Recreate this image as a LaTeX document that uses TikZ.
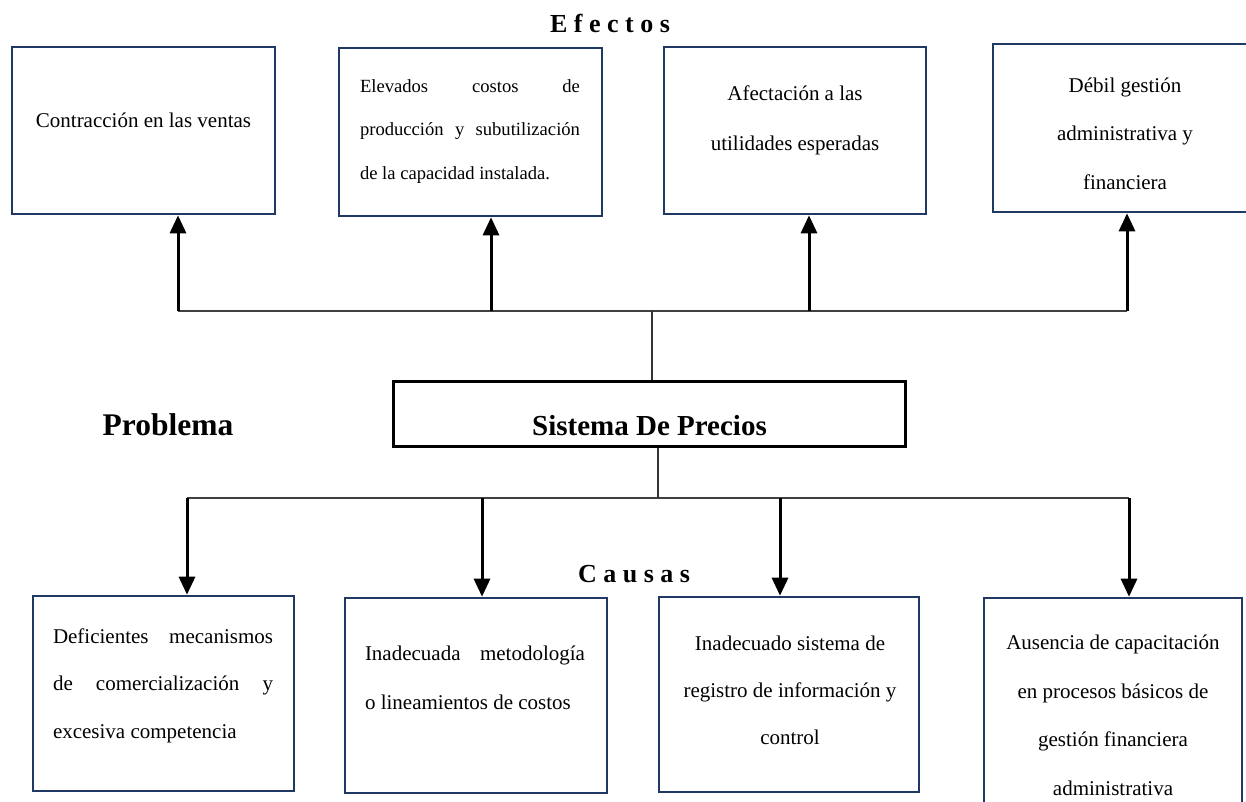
\documentclass[tikz,border=0pt]{standalone}
\usepackage{fontspec}
\setmainfont{Liberation Serif}
\usetikzlibrary{arrows.meta}
\definecolor{boxnavy}{RGB}{31,56,100}
% a line of text stretched to a given width
\newcommand\justline[2]{\makebox[#1][s]{#2}}
\begin{document}
\begin{tikzpicture}[x=1pt,y=-1pt,
  effbox/.style={draw=boxnavy,line width=2.6pt,inner sep=0pt},
  probbox/.style={draw=black,line width=3pt,inner sep=0pt},
  txt/.style={inner sep=0pt,font=\fontsize{21}{48.5}\selectfont,align=center},
  smalltxt/.style={inner sep=0pt,font=\fontsize{18.6}{43.5}\selectfont,align=left},
  jtxt/.style={inner sep=0pt,font=\fontsize{21}{47.5}\selectfont,align=left},
  heading/.style={inner sep=0pt,font=\bfseries\fontsize{26}{30}\selectfont,anchor=base},
  bigbold/.style={inner sep=0pt,font=\bfseries\fontsize{29}{34}\selectfont},
  arr/.style={-{Triangle[length=18pt,width=16pt]},line width=3pt},
  hline/.style={line width=1.6pt,draw=black!75},
  stem/.style={line width=1.2pt,draw=black!80}
]
\useasboundingbox (0,0) rectangle (1246,802);

% headings
\node[heading] (eff) at (610,33) {E f e c t o s};
\node[heading] (cau) at (634,582) {C a u s a s};
\node[bigbold,font=\bfseries\fontsize{31.5}{36}\selectfont] (lab) at (168,425) {Problema};

% effect boxes
\node[effbox,minimum width=263pt,minimum height=167pt] (e1) at (143.5,130.5) {};
\node[effbox,minimum width=263pt,minimum height=168pt] (e2) at (470.5,132) {};
\node[effbox,minimum width=262pt,minimum height=167pt] (e3) at (795,130.5) {};
\node[effbox,minimum width=264pt,minimum height=168pt] (e4) at (1125,128) {};

\node[txt] (e1t) at (143.5,120) {Contracción en las ventas};
\node[smalltxt] (e2t) at (470,131.5) {\justline{220pt}{Elevados costos de}\\
  \justline{220pt}{producción y subutilización}\\
  de la capacidad instalada.};
\node[txt,font=\fontsize{21}{50}\selectfont] (e3t) at (795,120) {Afectación a las\\utilidades esperadas};
\node[txt] (e4t) at (1125,133.5) {Débil gestión\\administrativa y\\financiera};

% central problem
\node[probbox,minimum width=512pt,minimum height=65pt] (prob) at (649,413.5) {};
\node[bigbold] (probt) at (649.5,426) {Sistema De Precios};

% cause boxes
\node[effbox,minimum width=261pt,minimum height=195pt] (c1) at (163.5,693.5) {};
\node[effbox,minimum width=262pt,minimum height=195pt] (c2) at (476,695.5) {};
\node[effbox,minimum width=260pt,minimum height=195pt] (c3) at (789,694.5) {};
\node[effbox,minimum width=258pt,minimum height=230pt] (c4) at (1113,713) {};

\node[jtxt] (c1t) at (163,685.5) {\justline{220pt}{Deficientes mecanismos}\\
  \justline{220pt}{de comercialización y}\\
  excesiva competencia};
\node[jtxt,font=\fontsize{21}{49}\selectfont] (c2t) at (475,677.5) {\justline{220pt}{Inadecuada metodología}\\
  o lineamientos de costos};
\node[txt,font=\fontsize{21}{47}\selectfont] (c3t) at (790,690) {Inadecuado sistema de\\registro de información y\\control};
\node[txt] (c4t) at (1113,715.5) {Ausencia de capacitación\\en procesos básicos de\\gestión financiera\\administrativa};

% effect branches
\coordinate (t1) at (178,311);
\coordinate (t2) at (491,311);
\coordinate (t3) at (809,311);
\coordinate (t4) at (1127,311);
\coordinate (jt) at (652,311);
\draw[hline] (t1) -- (t4);
\draw[stem] (jt) -- (jt |- prob.north);
\foreach \i in {1,...,4} \draw[arr] (t\i) -- (t\i |- e\i.south);

% cause branches
\coordinate (b1) at (187,498);
\coordinate (b2) at (482,498);
\coordinate (b3) at (780,498);
\coordinate (b4) at (1129,498);
\coordinate (jb) at (658,498);
\draw[hline] (b1) -- (b4);
\draw[stem] (jb |- prob.south) -- (jb);
\foreach \i in {1,...,4} \draw[arr] (b\i) -- (b\i |- c\i.north);
\end{tikzpicture}
\end{document}
